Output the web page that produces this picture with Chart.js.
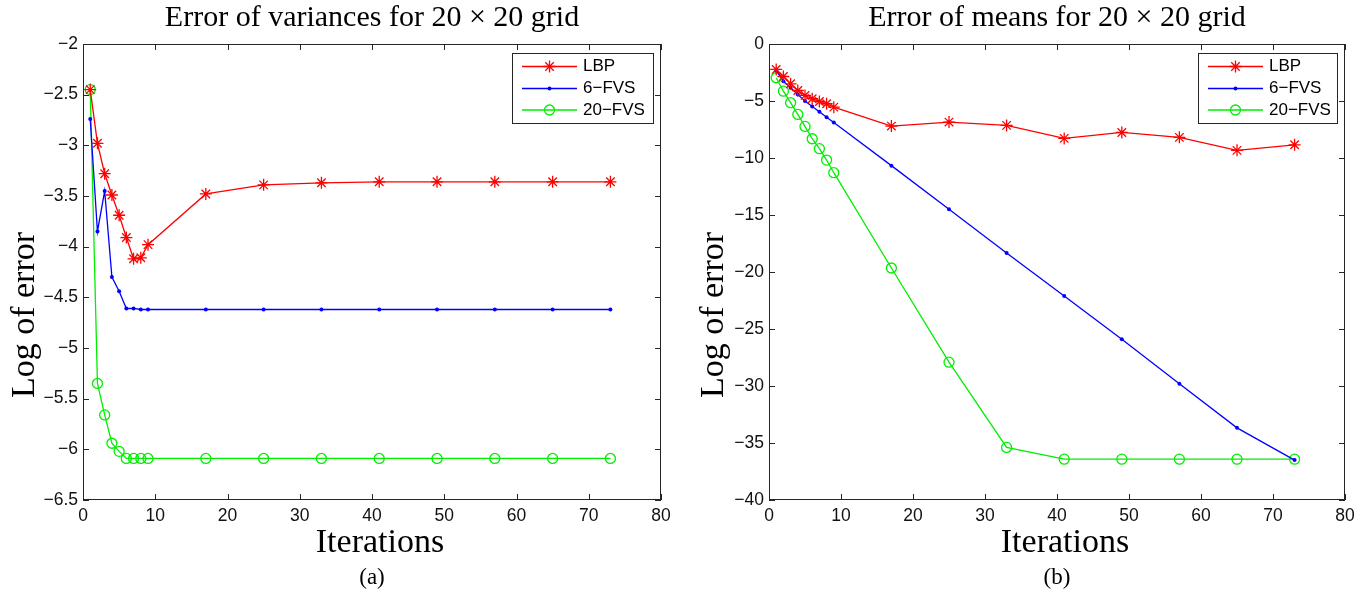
<!DOCTYPE html>
<html>
<head>
<meta charset="utf-8">
<script src="https://cdn.jsdelivr.net/npm/chart.js@4.4.0/dist/chart.umd.min.js"></script>
<style>
    html, body { margin: 0; padding: 0; background: #fff; }
    .panel { position: absolute; top: 0; width: 684px; height: 595px; }
    canvas { display: block; }
</style>
</head>
<body>
<div class="panel" style="left:0"><canvas id="chartA" width="684" height="595"></canvas></div>
<div class="panel" style="left:684px"><canvas id="chartB" width="684" height="595"></canvas></div>
<script>
const iterations = [1, 2, 3, 4, 5, 6, 7, 8, 9, 17, 25, 33, 41, 49, 57, 65, 73];
const xTicks = [0, 10, 20, 30, 40, 50, 60, 70, 80];

// (a) error of variances
const varLBP = [-2.45, -2.98, -3.28, -3.49, -3.69, -3.91, -4.12, -4.11, -3.98, -3.48, -3.39, -3.37, -3.36, -3.36, -3.36, -3.36, -3.36];
const var6FVS = [-2.74, -3.85, -3.45, -4.30, -4.44, -4.61, -4.61, -4.62, -4.62, -4.62, -4.62, -4.62, -4.62, -4.62, -4.62, -4.62, -4.62];
const var20FVS = [-2.45, -5.35, -5.66, -5.94, -6.02, -6.09, -6.09, -6.09, -6.09, -6.09, -6.09, -6.09, -6.09, -6.09, -6.09, -6.09, -6.09];
const varTicks = [-6.5, -6, -5.5, -5, -4.5, -4, -3.5, -3, -2.5, -2];

// (b) error of means
const meanLBP = [-2.23, -2.85, -3.49, -4.08, -4.51, -4.80, -5.04, -5.24, -5.54, -7.20, -6.85, -7.14, -8.28, -7.76, -8.19, -9.33, -8.84];
const mean6FVS = [-2.32, -3.26, -3.84, -4.43, -5.01, -5.48, -5.94, -6.42, -6.88, -10.67, -14.50, -18.33, -22.1, -25.9, -29.8, -33.67, -36.5];
const mean20FVS = [-2.96, -4.14, -5.15, -6.18, -7.23, -8.31, -9.18, -10.18, -11.29, -19.65, -27.91, -35.39, -36.42, -36.42, -36.42, -36.42, -36.42];
const meanTicks = [-40, -35, -30, -25, -20, -15, -10, -5, 0];

const serif = "'Liberation Serif', 'DejaVu Serif', serif";
const sans = "'Liberation Sans', Arial, sans-serif";

// MATLAB style box with inward ticks on all four sides
const boxPlugin = {
    id: "matlabBox",
    afterDraw(chart) {
        const { ctx, chartArea: a, scales: { x, y } } = chart;
        ctx.save();
        ctx.strokeStyle = "#262626";
        ctx.lineWidth = 1;
        ctx.beginPath();
        x.ticks.forEach(t => {
            const px = Math.round(x.getPixelForValue(t.value)) + 0.5;
            ctx.moveTo(px, a.bottom); ctx.lineTo(px, a.bottom - 6);
            ctx.moveTo(px, a.top); ctx.lineTo(px, a.top + 6);
        });
        y.ticks.forEach(t => {
            const py = Math.round(y.getPixelForValue(t.value)) + 0.5;
            ctx.moveTo(a.left, py); ctx.lineTo(a.left + 6, py);
            ctx.moveTo(a.right, py); ctx.lineTo(a.right - 6, py);
        });
        ctx.stroke();
        ctx.strokeRect(Math.round(a.left) + 0.5, Math.round(a.top) + 0.5,
            Math.round(a.right - a.left) - 1, Math.round(a.bottom - a.top) - 1);
        ctx.restore();
    }
};

// axis titles, placed like the MATLAB figure (ylabel sits below the axis centre)
const axisTitles = {
    id: "axisTitles",
    afterDraw(chart, args, o) {
        const { ctx, chartArea: a } = chart;
        ctx.save();
        ctx.fillStyle = "#000";
        ctx.font = "34px " + serif;
        ctx.textAlign = "center";
        ctx.textBaseline = "middle";
        ctx.fillText(o.x, (a.left + a.right) / 2 + o.xShift, a.bottom + o.xGap);
        ctx.translate(o.yX, (a.top + a.bottom) / 2 + o.yShift);
        ctx.rotate(-Math.PI / 2);
        ctx.fillText(o.y, 0, 0);
        ctx.restore();
    }
};

// legend in a framed box, top right inside the plot
const boxLegend = {
    id: "boxLegend",
    afterDraw(chart, args, o) {
        const { ctx, chartArea: a } = chart;
        const left = Math.round(a.right - o.right - o.width), top = Math.round(a.top + o.top);
        ctx.save();
        ctx.fillStyle = "#fff";
        ctx.fillRect(left, top, o.width, o.height);
        ctx.strokeStyle = "#262626";
        ctx.lineWidth = 1;
        ctx.strokeRect(left + 0.5, top + 0.5, o.width, o.height);
        ctx.font = "17px " + sans;
        ctx.textBaseline = "middle";
        ctx.textAlign = "left";
        chart.data.datasets.forEach((ds, i) => {
            const yy = top + o.rows[i];
            const x1 = left + o.lineStart, x2 = left + o.lineEnd;
            ctx.strokeStyle = ds.borderColor;
            ctx.lineWidth = ds.borderWidth;
            ctx.beginPath(); ctx.moveTo(x1, yy); ctx.lineTo(x2, yy); ctx.stroke();
            ctx.fillStyle = ds.pointBackgroundColor;
            ctx.strokeStyle = ds.pointBorderColor;
            ctx.lineWidth = ds.pointBorderWidth;
            Chart.helpers.drawPoint(ctx, {
                pointStyle: ds.pointStyle, radius: ds.pointRadius,
                rotation: 0, borderWidth: ds.pointBorderWidth
            }, (x1 + x2) / 2, yy);
            ctx.fillStyle = "#000";
            ctx.fillText(ds.label, left + o.textX, yy);
        });
        ctx.restore();
    }
};

function series(label, values, color, style, radius, fill, bw) {
    return {
        label: label,
        data: iterations.map((x, i) => ({ x: x, y: values[i] })),
        borderColor: color,
        borderWidth: 1.3,
        pointStyle: style,
        pointRadius: radius,
        pointHoverRadius: radius,
        pointBorderColor: color,
        pointBackgroundColor: fill,
        pointBorderWidth: bw,
        tension: 0,
        fill: false
    };
}

const tickLabel = v => String(v).replace("-", "\u2212");

function makePanel(id, p) {
    return new Chart(document.getElementById(id), {
        type: "line",
        data: {
            datasets: [
                series("LBP", p.lbp, "#ff0000", "star", 6, "#ff0000", 1.3),
                series("6\u2212FVS", p.fvs6, "#0000ff", "circle", 2, "#0000ff", 0),
                series("20\u2212FVS", p.fvs20, "#00ee00", "circle", 5, "rgba(0,0,0,0)", 1.3)
            ]
        },
        options: {
            responsive: false,
            animation: false,
            devicePixelRatio: 1,
            layout: { padding: { left: 0, right: p.padRight, top: 0, bottom: 0 } },
            plugins: {
                legend: { display: false },
                tooltip: { enabled: false },
                title: {
                    display: true, text: p.title, fullSize: false, color: "#000",
                    font: { family: serif, size: 30, weight: "normal", lineHeight: 1.2 },
                    padding: { top: 0, bottom: 8 }
                },
                subtitle: {
                    display: true, text: p.tag, position: "bottom", fullSize: false, color: "#000",
                    font: { family: serif, size: 23, weight: "normal", lineHeight: 1.2 },
                    padding: { top: 6.7, bottom: 3.2 }
                },
                axisTitles: {
                    x: "Iterations", xShift: 8, xGap: 43,
                    y: "Log of error", yX: p.yTitleX, yShift: 43
                },
                boxLegend: {
                    right: 8, top: 9, width: p.legendWidth, height: 70,
                    rows: [13.5, 35.5, 57], lineStart: 10, lineEnd: 65, textX: 71
                }
            },
            scales: {
                x: {
                    type: "linear", min: 0, max: 80,
                    afterBuildTicks: s => { s.ticks = xTicks.map(v => ({ value: v })); },
                    afterFit: s => { s.height = 57.5; },
                    grid: { display: false, drawTicks: false },
                    border: { display: false },
                    ticks: {
                        font: { family: sans, size: 17.5 }, color: "#111", padding: 6,
                        maxRotation: 0, autoSkip: false, callback: tickLabel
                    }
                },
                y: {
                    type: "linear", min: p.ticks[0], max: p.ticks[p.ticks.length - 1],
                    afterBuildTicks: s => { s.ticks = p.ticks.map(v => ({ value: v })); },
                    afterFit: s => { s.width = p.axisWidth; },
                    grid: { display: false, drawTicks: false },
                    border: { display: false },
                    ticks: {
                        font: { family: sans, size: 17.5 }, color: "#111", padding: 5,
                        autoSkip: false, callback: tickLabel
                    }
                }
            }
        },
        plugins: [boxPlugin, axisTitles, boxLegend]
    });
}

makePanel("chartA", {
    title: "Error of variances for 20 \u00d7 20 grid", tag: "(a)",
    lbp: varLBP, fvs6: var6FVS, fvs20: var20FVS, ticks: varTicks,
    axisWidth: 83, padRight: 23, yTitleX: 25, legendWidth: 141
});
makePanel("chartB", {
    title: "Error of means for 20 \u00d7 20 grid", tag: "(b)",
    lbp: meanLBP, fvs6: mean6FVS, fvs20: mean20FVS, ticks: meanTicks,
    axisWidth: 85, padRight: 23, yTitleX: 30, legendWidth: 139
});
</script>
</body>
</html>
